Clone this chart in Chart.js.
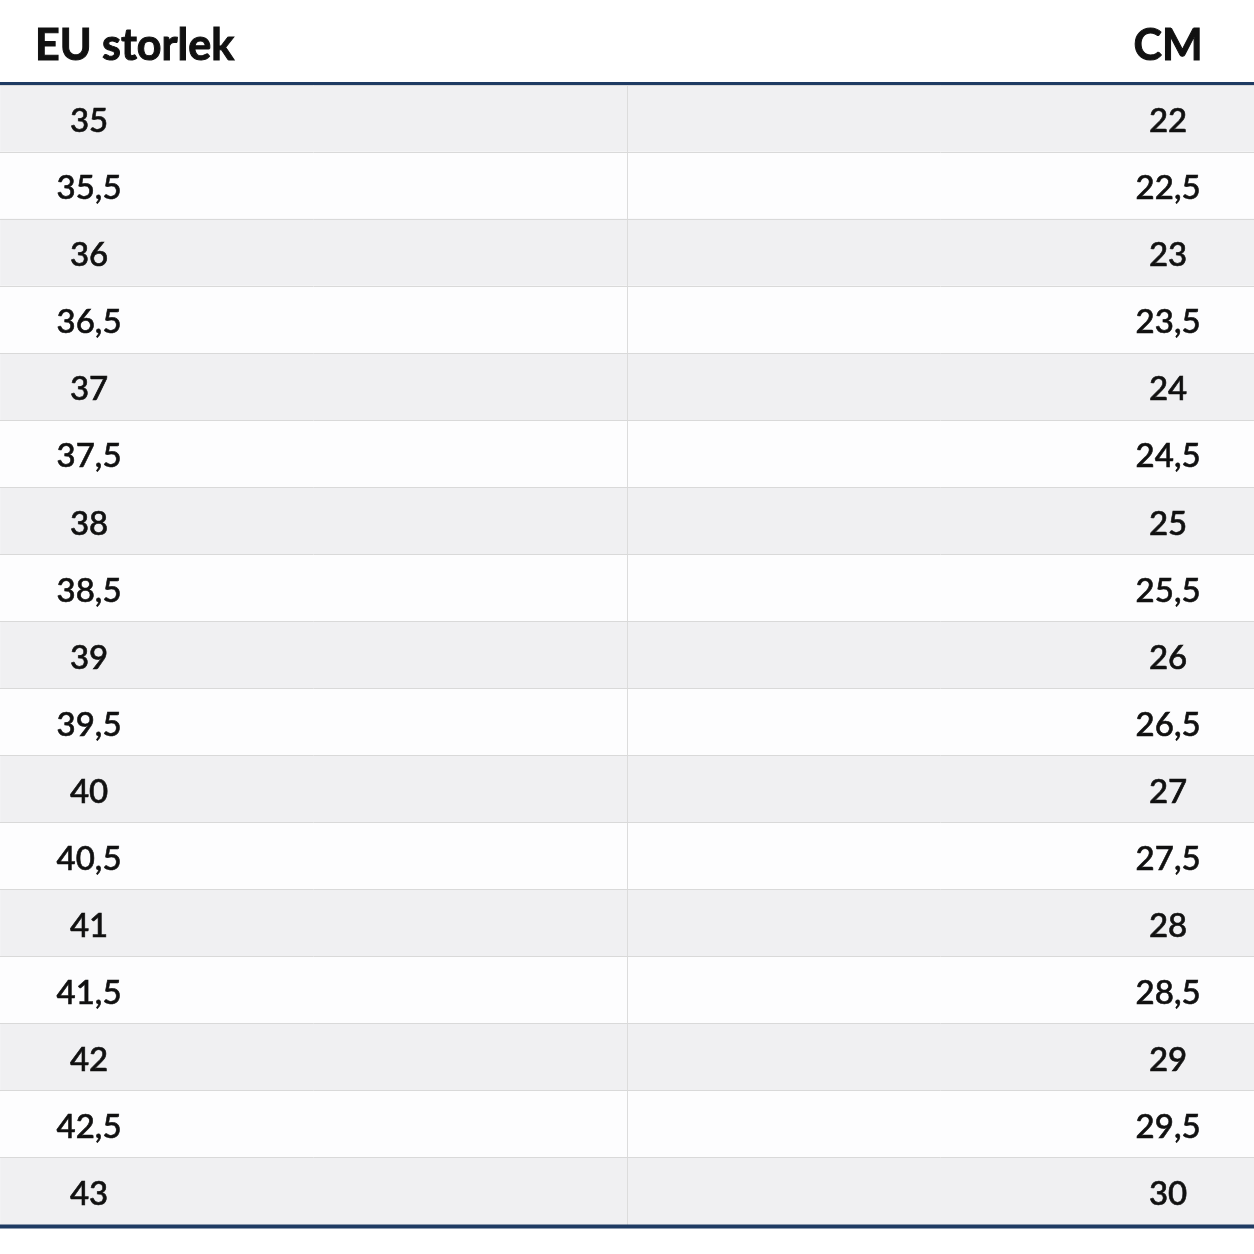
<!DOCTYPE html>
<html><head><meta charset="utf-8">
<script src="https://cdn.jsdelivr.net/npm/chart.js@4/dist/chart.umd.min.js"></script>
<style>html,body{margin:0;padding:0;background:#fff}canvas{display:block}</style>
</head><body>
<canvas id="c" width="1254" height="1254"></canvas>
<script>
const headers = ['EU storlek', 'CM'];
const euSizes = ['35','35,5','36','36,5','37','37,5','38','38,5','39','39,5','40','40,5','41','41,5','42','42,5','43'];
const cmSizes = ['22','22,5','23','23,5','24','24,5','25','25,5','26','26,5','27','27,5','28','28,5','29','29,5','30'];
const columnSpan = [0, 2];

const tablePlugin = {
  id: 'tableText',
  afterDraw(chart) {
    const {ctx, chartArea, scales: {x, y}} = chart;
    ctx.save();
    ctx.fillStyle = '#111111';
    ctx.strokeStyle = '#111111';
    ctx.lineWidth = 0.6;
    ctx.textAlign = 'center';
    ctx.textBaseline = 'middle';
    ctx.font = '500 33px Lato';
    const leftX = x.getPixelForValue(0.142);
    const rightX = x.getPixelForValue(1.863);
    euSizes.forEach((s, i) => {
      const py = y.getPixelForValue(i) + 3;
      ctx.fillText(s, leftX, py);
      ctx.strokeText(s, leftX, py);
      ctx.fillText(cmSizes[i], rightX, py);
      ctx.strokeText(cmSizes[i], rightX, py);
    });
    ctx.font = 'bold 43px Lato';
    ctx.lineWidth = 1;
    ctx.textBaseline = 'alphabetic';
    ctx.textAlign = 'left';
    ctx.fillText(headers[0], 35, 60);
    ctx.strokeText(headers[0], 35, 60);
    ctx.textAlign = 'center';
    ctx.fillText(headers[1], rightX, 60);
    ctx.strokeText(headers[1], rightX, 60);
    ctx.strokeStyle = '#1f3b63';
    ctx.lineWidth = 3;
    ctx.beginPath();
    ctx.moveTo(chartArea.left, chartArea.top - 1.5);
    ctx.lineTo(chartArea.right, chartArea.top - 1.5);
    ctx.stroke();
    ctx.lineWidth = 4;
    ctx.beginPath();
    ctx.moveTo(chartArea.left, chartArea.bottom + 1.5);
    ctx.lineTo(chartArea.right, chartArea.bottom + 1.5);
    ctx.stroke();
    ctx.restore();
  }
};

new Chart(document.getElementById('c'), {
  type: 'bar',
  data: {
    labels: euSizes,
    datasets: [{
      data: euSizes.map(() => columnSpan),
      backgroundColor: euSizes.map((_, i) => i % 2 === 0 ? '#f0f0f2' : '#fdfdfe'),
      barPercentage: 1,
      categoryPercentage: 1,
      borderWidth: 0
    }]
  },
  options: {
    indexAxis: 'y',
    responsive: false,
    animation: false,
    devicePixelRatio: 1,
    layout: {padding: {top: 85, bottom: 29, left: 0, right: 0}},
    plugins: {legend: {display: false}, tooltip: {enabled: false}, title: {display: false}},
    scales: {
      x: {
        type: 'linear', min: 0, max: 2,
        ticks: {display: false, stepSize: 1},
        grid: {z: 1, drawTicks: false, lineWidth: 1, color: c => (c.tick && c.tick.value === 1) ? '#dcdcdc' : 'rgba(0,0,0,0)'},
        border: {display: false}
      },
      y: {
        type: 'category',
        ticks: {display: false},
        grid: {z: 1, drawTicks: false, offset: true, color: '#d9d9d9', lineWidth: 1},
        border: {display: false}
      }
    }
  },
  plugins: [tablePlugin]
});
</script>
</body></html>
